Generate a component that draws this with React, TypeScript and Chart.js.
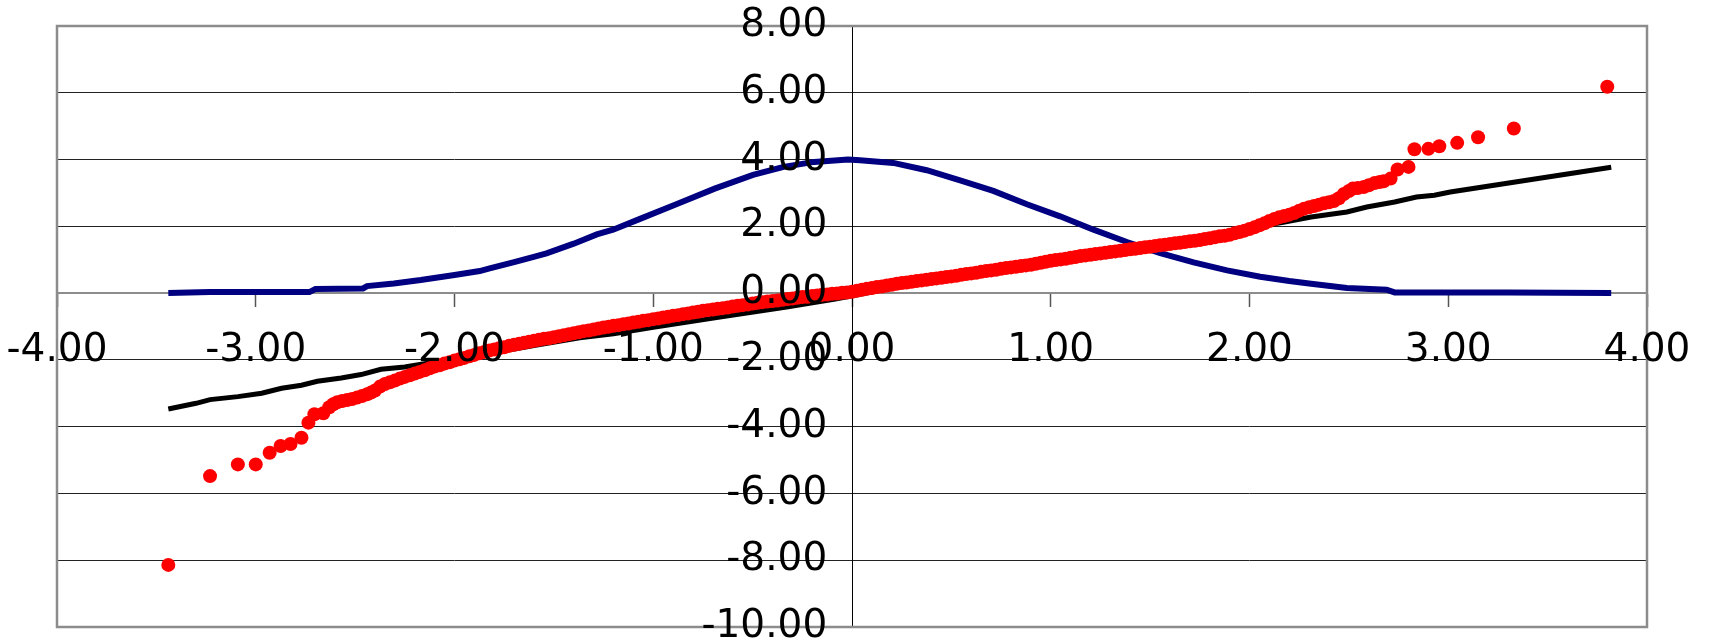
import React, { useEffect, useRef } from "react";
import { Chart, registerables } from "chart.js";

Chart.register(...registerables);

// Axis ranges / ticks
const xMin = -4;
const xMax = 4;
const yMin = -10;
const yMax = 8;
const xStep = 1;
const yStep = 2;

// Red points (sample values) — x positions
const redX = [
  // lower tail
  -3.44, -3.23, -3.09, -3.0, -2.93, -2.875, -2.825, -2.77, -2.735, -2.705,
  -2.66, -2.63, -2.61, -2.59, -2.565, -2.54, -2.515, -2.49, -2.465, -2.44, -2.42,
  // dense body
  -2.4, -2.375, -2.35, -2.325, -2.3, -2.275, -2.25, -2.225, -2.2, -2.175,
  -2.15, -2.125, -2.1, -2.075, -2.05, -2.025, -2.0,
  -1.975, -1.95, -1.925, -1.9, -1.875, -1.85, -1.825, -1.8, -1.775, -1.75,
  -1.725, -1.7, -1.675, -1.65, -1.625, -1.6, -1.575, -1.55, -1.525, -1.5,
  -1.475, -1.45, -1.425, -1.4, -1.375, -1.35, -1.325, -1.3, -1.275, -1.25,
  -1.225, -1.2, -1.175, -1.15, -1.125, -1.1, -1.075, -1.05, -1.025, -1.0,
  -0.975, -0.95, -0.925, -0.9, -0.875, -0.85, -0.825, -0.8, -0.775, -0.75,
  -0.725, -0.7, -0.675, -0.65, -0.625, -0.6, -0.575, -0.55, -0.525, -0.5,
  -0.475, -0.45, -0.425, -0.4, -0.375, -0.35, -0.325, -0.3, -0.275, -0.25,
  -0.225, -0.2, -0.175, -0.15, -0.125, -0.1, -0.075, -0.05, -0.025, 0.0,
  0.025, 0.05, 0.075, 0.1, 0.125, 0.15, 0.175, 0.2, 0.225, 0.25,
  0.275, 0.3, 0.325, 0.35, 0.375, 0.4, 0.425, 0.45, 0.475, 0.5,
  0.525, 0.55, 0.575, 0.6, 0.625, 0.65, 0.675, 0.7, 0.725, 0.75,
  0.775, 0.8, 0.825, 0.85, 0.875, 0.9, 0.925, 0.95, 0.975, 1.0,
  1.025, 1.05, 1.075, 1.1, 1.125, 1.15, 1.175, 1.2, 1.225, 1.25,
  1.275, 1.3, 1.325, 1.35, 1.375, 1.4, 1.425, 1.45, 1.475, 1.5,
  1.525, 1.55, 1.575, 1.6, 1.625, 1.65, 1.675, 1.7, 1.725, 1.75,
  1.775, 1.8, 1.825, 1.85, 1.875, 1.9, 1.925, 1.95, 1.975, 2.0,
  2.025, 2.05, 2.075, 2.1, 2.125, 2.15, 2.175, 2.2, 2.225, 2.25,
  2.275, 2.3, 2.325, 2.35, 2.375, 2.4, 2.425, 2.45, 2.475,
  // upper tail
  2.5, 2.52, 2.545, 2.575, 2.6, 2.63, 2.655, 2.675, 2.71, 2.745,
  2.8, 2.83, 2.9, 2.955, 3.045, 3.15, 3.33, 3.8,
];
// Red points — y values
const redY = [
  // lower tail
  -8.14, -5.48, -5.13, -5.13, -4.78, -4.58, -4.52, -4.33, -3.88, -3.63,
  -3.6, -3.42, -3.33, -3.27, -3.23, -3.2, -3.17, -3.13, -3.08, -3.03, -2.98,
  // dense body
  -2.92, -2.8, -2.72, -2.67, -2.62, -2.56, -2.51, -2.46, -2.41, -2.36,
  -2.31, -2.25, -2.2, -2.16, -2.11, -2.07, -2.02,
  -1.98, -1.94, -1.89, -1.85, -1.8, -1.76, -1.72, -1.69, -1.65, -1.62,
  -1.58, -1.55, -1.52, -1.49, -1.46, -1.43, -1.4, -1.37, -1.35, -1.32,
  -1.29, -1.26, -1.23, -1.2, -1.17, -1.14, -1.12, -1.09, -1.06, -1.03,
  -1.01, -0.98, -0.96, -0.93, -0.91, -0.88, -0.86, -0.83, -0.81, -0.78,
  -0.76, -0.73, -0.71, -0.68, -0.66, -0.63, -0.61, -0.58, -0.56, -0.53,
  -0.51, -0.49, -0.47, -0.45, -0.43, -0.4, -0.38, -0.36, -0.34, -0.31,
  -0.29, -0.27, -0.25, -0.24, -0.22, -0.2, -0.18, -0.16, -0.14, -0.12,
  -0.11, -0.09, -0.07, -0.05, -0.04, -0.02, -0.01, 0.01, 0.02, 0.04,
  0.07, 0.1, 0.13, 0.15, 0.18, 0.2, 0.23, 0.25, 0.28, 0.3,
  0.32, 0.34, 0.36, 0.38, 0.4, 0.42, 0.44, 0.46, 0.48, 0.5,
  0.52, 0.55, 0.57, 0.59, 0.61, 0.64, 0.66, 0.68, 0.7, 0.73,
  0.75, 0.77, 0.79, 0.81, 0.83, 0.85, 0.88, 0.91, 0.94, 0.97,
  0.99, 1.01, 1.03, 1.06, 1.08, 1.11, 1.13, 1.15, 1.17, 1.19,
  1.21, 1.23, 1.25, 1.27, 1.29, 1.31, 1.33, 1.35, 1.37, 1.39,
  1.41, 1.43, 1.45, 1.47, 1.49, 1.51, 1.53, 1.55, 1.57, 1.59,
  1.62, 1.64, 1.67, 1.7, 1.72, 1.75, 1.79, 1.83, 1.87, 1.92,
  1.97, 2.03, 2.09, 2.16, 2.22, 2.27, 2.31, 2.35, 2.4, 2.47,
  2.53, 2.57, 2.61, 2.65, 2.69, 2.72, 2.76, 2.84, 2.97,
  // upper tail
  3.06, 3.13, 3.15, 3.18, 3.23, 3.3, 3.33, 3.35, 3.43, 3.7,
  3.78, 4.31, 4.32, 4.4, 4.5, 4.67, 4.93, 6.18,
];

// Black line
const blackX = [
  -3.44, -3.3, -3.23, -3.09, -2.97, -2.87, -2.77, -2.69, -2.57, -2.47,
  -2.37, -2.25, -2.16, -2.0, -1.8, -1.6, -1.37, -1.2, -1.0, -0.665,
  -0.329, -0.077, 0.2, 0.5, 0.8, 1.0, 1.3, 1.6, 2.0, 2.17,
  2.31, 2.49, 2.59, 2.73, 2.84, 2.93, 3.01, 3.82,
];
const blackY = [
  -3.47, -3.3, -3.19, -3.1, -3.0, -2.85, -2.76, -2.64, -2.54, -2.44,
  -2.28, -2.21, -2.12, -1.99, -1.78, -1.57, -1.34, -1.22, -1.02, -0.72,
  -0.42, -0.17, 0.15, 0.5, 0.82, 1.04, 1.3, 1.52, 1.96, 2.12,
  2.28, 2.43, 2.58, 2.73, 2.88, 2.93, 3.03, 3.77,
];

// Blue (navy) curve
const blueX = [
  -3.44, -3.23, -3.0, -2.73, -2.7, -2.46, -2.44, -2.305, -2.17, -2.0,
  -1.873, -1.823, -1.7, -1.592, -1.537, -1.4, -1.284, -1.202, -1.076, -0.884,
  -0.691, -0.498, -0.344, -0.19, -0.02, 0.04, 0.208, 0.376, 0.544, 0.711,
  0.88, 1.047, 1.215, 1.383, 1.551, 1.719, 1.887, 2.054, 2.2, 2.31,
  2.49, 2.69, 2.73, 3.0, 3.3, 3.82,
];
const blueY = [
  0.0, 0.03, 0.03, 0.03, 0.12, 0.14, 0.21, 0.29, 0.39, 0.54,
  0.66, 0.74, 0.93, 1.1, 1.19, 1.48, 1.76, 1.9, 2.2, 2.66,
  3.13, 3.54, 3.78, 3.93, 4.0, 3.98, 3.9, 3.68, 3.38, 3.06,
  2.66, 2.3, 1.9, 1.53, 1.2, 0.92, 0.68, 0.49, 0.36, 0.28,
  0.15, 0.1, 0.02, 0.02, 0.02, 0.0,
];

const toPoints = (xs: number[], ys: number[]) => xs.map((x, i) => ({ x, y: ys[i] }));

const FONT = { family: "'DejaVu Sans', sans-serif", size: 39 };

const zeroPadding = (s: any) => {
  s.paddingLeft = 0;
  s.paddingRight = 0;
  s.paddingTop = 0;
  s.paddingBottom = 0;
};

const plotBorder = {
  id: "plotBorder",
  beforeDatasetsDraw(chart: any) {
    const { ctx, chartArea } = chart;
    const { left, top, right, bottom } = chartArea;
    ctx.save();
    ctx.strokeStyle = "#8c8c8c";
    ctx.lineWidth = 2.5;
    ctx.strokeRect(left, top, right - left, bottom - top);
    ctx.restore();
  },
};

export default function App() {
  const canvasRef = useRef<HTMLCanvasElement | null>(null);

  useEffect(() => {
    document.body.style.margin = "0";
    const canvas = canvasRef.current;
    if (!canvas) return;
    const chart = new Chart(canvas, {
      type: "scatter",
      data: {
        datasets: [
          {
            label: "data",
            data: toPoints(redX, redY),
            backgroundColor: "#ff0000",
            borderWidth: 0,
            pointRadius: 7,
            showLine: false,
          },
          {
            label: "line",
            data: toPoints(blackX, blackY),
            borderColor: "#000000",
            borderWidth: 5,
            pointRadius: 0,
            showLine: true,
            fill: false,
          },
          {
            label: "density",
            data: toPoints(blueX, blueY),
            borderColor: "#000080",
            backgroundColor: "#000080",
            borderWidth: 6,
            pointRadius: 0,
            showLine: true,
            fill: false,
          },
        ],
      },
      options: {
        responsive: false,
        animation: false,
        layout: { padding: { left: 57, right: 64, top: 26, bottom: 15 } },
        plugins: { legend: { display: false }, tooltip: { enabled: false } },
        scales: {
          x: {
            type: "linear",
            position: { y: 0 } as any,
            min: xMin,
            max: xMax,
            afterFit: zeroPadding,
            ticks: {
              stepSize: xStep,
              autoSkip: false,
              maxRotation: 0,
              padding: 21,
              color: "#000",
              font: FONT,
              z: 1,
              callback: (v: any) => Number(v).toFixed(2),
            },
            grid: {
              drawOnChartArea: false,
              drawTicks: true,
              tickLength: 13,
              tickColor: "#555",
              tickWidth: 1.5,
            },
            border: { display: true, color: "#8c8c8c", width: 2 },
          },
          y: {
            type: "linear",
            position: { x: 0 } as any,
            min: yMin,
            max: yMax,
            afterFit: zeroPadding,
            ticks: {
              stepSize: yStep,
              autoSkip: false,
              padding: 19,
              color: "#000",
              font: FONT,
              z: 1,
              // trailing spaces keep the label clear of the axis line, as in the original
              callback: (v: any) => Number(v).toFixed(2) + "  ",
            },
            grid: {
              drawOnChartArea: true,
              color: "#222",
              lineWidth: 1,
              drawTicks: true,
              tickLength: 13,
              tickColor: "#222",
            },
            border: { display: true, color: "#000", width: 1 },
          },
        },
      },
      plugins: [plotBorder],
    } as any);
    return () => chart.destroy();
  }, []);

  return (
    <div style={{ position: "fixed", left: 0, top: 0, width: 1711, height: 642, overflow: "hidden" }}>
      <canvas ref={canvasRef} width={1711} height={642} style={{ display: "block" }} />
    </div>
  );
}
